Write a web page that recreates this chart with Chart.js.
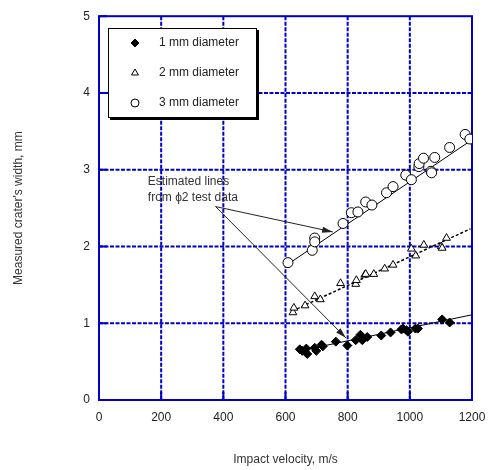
<!DOCTYPE html>
<html>
<head>
<meta charset="utf-8">
<script src="https://cdn.jsdelivr.net/npm/chart.js@4/dist/chart.umd.min.js"></script>
<style>
  html, body { margin: 0; padding: 0; background: #fff; }
  #wrap { width: 492px; height: 470px; }
</style>
</head>
<body>
<div id="wrap"><canvas id="crater"></canvas></div>
<script>
// ---- data ----
const d1x = [646, 654, 667, 670, 694, 699, 716, 720, 762, 799, 826, 841, 847, 863, 908, 938, 973, 978, 989, 994, 1018, 1026, 1104, 1128];
const d1y = [0.66, 0.64, 0.67, 0.60, 0.68, 0.64, 0.72, 0.70, 0.76, 0.71, 0.78, 0.85, 0.78, 0.82, 0.84, 0.88, 0.92, 0.93, 0.91, 0.89, 0.93, 0.93, 1.05, 1.01];

const d2x = [624, 627, 663, 694, 712, 777, 826, 828, 855, 858, 884, 919, 946, 1005, 1019, 1045, 1101, 1104, 1118];
const d2y = [1.14, 1.20, 1.23, 1.35, 1.31, 1.52, 1.51, 1.56, 1.63, 1.64, 1.64, 1.71, 1.76, 1.97, 1.88, 2.02, 2.00, 1.98, 2.11];

const d3x = [608, 686, 694, 694, 785, 812, 833, 858, 878, 925, 946, 987, 1005, 1029, 1030, 1044, 1068, 1070, 1080, 1128, 1178, 1193];
const d3y = [1.79, 1.95, 2.11, 2.06, 2.30, 2.44, 2.45, 2.58, 2.54, 2.70, 2.78, 2.93, 2.87, 3.04, 3.08, 3.15, 2.98, 2.96, 3.16, 3.29, 3.46, 3.40];

// estimated lines (end points)
const fit1x = [646, 1200], fit1y = [0.64, 1.11];
const fit2x = [622, 1195], fit2y = [1.16, 2.23];
const fit3x = [608, 1200], fit3y = [1.77, 3.39];

const seriesNames = ['1 mm diameter', '2 mm diameter', '3 mm diameter'];
const xTicks = [0, 200, 400, 600, 800, 1000, 1200];
const yTicks = [0, 1, 2, 3, 4, 5];

// annotation: text and arrows (data coords)
const noteLines = ['Estimated lines', 'from \u03d52 test data'];
const noteAt = [157, 2.84];
const arrowFrom = [375, 2.52];
const arrowTo = [[752, 2.19], [794, 0.81]];

const pts = (xs, ys) => xs.map((x, i) => ({ x: x, y: ys[i] }));
const BLUE = '#0000c8';
const FONT = 'Arial, "Liberation Sans", sans-serif';

// grid, inner ticks, legend box, note and arrows
const decor = {
    id: 'decor',
    beforeDatasetsDraw(chart) {
        const { ctx, chartArea: a, scales: { x, y } } = chart;
        ctx.save();
        ctx.strokeStyle = BLUE;
        ctx.lineWidth = 2;
        ctx.setLineDash([4, 1.5]);
        xTicks.slice(1, -1).forEach(v => {
            const px = x.getPixelForValue(v);
            ctx.beginPath(); ctx.moveTo(px, a.top); ctx.lineTo(px, a.bottom); ctx.stroke();
        });
        yTicks.slice(1, -1).forEach(v => {
            const py = y.getPixelForValue(v);
            ctx.beginPath(); ctx.moveTo(a.left, py); ctx.lineTo(a.right, py); ctx.stroke();
        });
        ctx.setLineDash([]);
        // inner tick marks
        xTicks.forEach(v => {
            const px = x.getPixelForValue(v);
            ctx.beginPath(); ctx.moveTo(px, a.bottom); ctx.lineTo(px, a.bottom - 8); ctx.stroke();
        });
        yTicks.forEach(v => {
            const py = y.getPixelForValue(v);
            ctx.beginPath(); ctx.moveTo(a.left, py); ctx.lineTo(a.left + 8, py); ctx.stroke();
        });
        ctx.strokeRect(a.left, a.top, a.right - a.left, a.bottom - a.top);
        ctx.restore();
    },
    afterDatasetsDraw(chart) {
        const { ctx, scales: { x, y } } = chart;
        ctx.save();
        // note text
        ctx.fillStyle = '#333';
        ctx.font = '12px ' + FONT;
        ctx.textBaseline = 'middle';
        const nx = x.getPixelForValue(noteAt[0]);
        const ny = y.getPixelForValue(noteAt[1]);
        noteLines.forEach((t, i) => ctx.fillText(t, nx, ny + i * 15.5));
        // arrows
        ctx.strokeStyle = '#222';
        ctx.fillStyle = '#222';
        ctx.lineWidth = 1;
        const fx = x.getPixelForValue(arrowFrom[0]), fy = y.getPixelForValue(arrowFrom[1]);
        arrowTo.forEach(p => {
            const tx = x.getPixelForValue(p[0]), ty = y.getPixelForValue(p[1]);
            ctx.beginPath(); ctx.moveTo(fx, fy); ctx.lineTo(tx, ty); ctx.stroke();
            const ang = Math.atan2(ty - fy, tx - fx);
            ctx.beginPath();
            ctx.moveTo(tx, ty);
            ctx.lineTo(tx - 11 * Math.cos(ang - 0.28), ty - 11 * Math.sin(ang - 0.28));
            ctx.lineTo(tx - 11 * Math.cos(ang + 0.28), ty - 11 * Math.sin(ang + 0.28));
            ctx.closePath();
            ctx.fill();
        });
        // legend box
        ctx.fillStyle = '#000';
        ctx.fillRect(110, 30, 149, 90);
        ctx.fillStyle = '#fff';
        ctx.fillRect(108, 28, 149, 90);
        ctx.strokeStyle = '#000';
        ctx.strokeRect(108.5, 28.5, 148, 89);
        ctx.font = '12px ' + FONT;
        chart.data.datasets.slice(0, 3).forEach((ds, i) => {
            const cy = 43 + i * 30;
            ctx.fillStyle = ds.backgroundColor;
            ctx.strokeStyle = ds.borderColor;
            ctx.lineWidth = 1;
            Chart.helpers.drawPoint(ctx, {
                pointStyle: ds.pointStyle, radius: 4, borderWidth: 1
            }, 135, cy);
            ctx.fillStyle = '#222';
            ctx.fillText(seriesNames[i], 159, cy);
        });
        ctx.restore();
    }
};

new Chart(document.getElementById('crater'), {
    type: 'scatter',
    data: {
        datasets: [
            { label: seriesNames[0], data: pts(d1x, d1y), pointStyle: 'rectRot', pointRadius: 4.5,
              backgroundColor: '#000', borderColor: '#000', borderWidth: 1 },
            { label: seriesNames[1], data: pts(d2x, d2y), pointStyle: 'triangle', pointRadius: 4.5,
              backgroundColor: '#fff', borderColor: '#000', borderWidth: 1 },
            { label: seriesNames[2], data: pts(d3x, d3y), pointStyle: 'circle', pointRadius: 5,
              backgroundColor: '#fff', borderColor: '#000', borderWidth: 1 },
            { type: 'line', data: pts(fit1x, fit1y), borderColor: '#000', borderWidth: 1, pointRadius: 0 },
            { type: 'line', data: pts(fit2x, fit2y), borderColor: '#000', borderWidth: 1.5, borderDash: [3, 2], pointRadius: 0 },
            { type: 'line', data: pts(fit3x, fit3y), borderColor: '#000', borderWidth: 1, pointRadius: 0 }
        ]
    },
    options: {
        responsive: true,
        maintainAspectRatio: false,
        animation: false,
        layout: { padding: { top: 11, right: 20, left: 0, bottom: 0 } },
        plugins: { legend: { display: false }, tooltip: { enabled: false } },
        scales: {
            x: {
                type: 'linear', min: 0, max: 1200,
                afterFit: s => { s.height = 70; s.paddingRight = 0; },
                afterBuildTicks: s => { s.ticks = xTicks.map(v => ({ value: v })); },
                grid: { display: false, drawTicks: false },
                border: { display: false },
                ticks: { padding: 10, color: '#222', font: { size: 12, family: FONT }, callback: v => String(v) },
                title: { display: true, text: 'Impact velocity, m/s', color: '#333', padding: { top: 0, bottom: 3 },
                         font: { size: 12, family: FONT } }
            },
            y: {
                type: 'linear', min: 0, max: 5,
                afterFit: s => { s.width = 99; },
                afterBuildTicks: s => { s.ticks = yTicks.map(v => ({ value: v })); },
                grid: { display: false, drawTicks: false },
                border: { display: false },
                ticks: { padding: 9, color: '#222', font: { size: 12, family: FONT }, callback: v => String(v) },
                title: { display: true, text: "Measured crater's width, mm", color: '#333', padding: { top: 11, bottom: 0 },
                         font: { size: 12, family: FONT } }
            }
        }
    },
    plugins: [decor]
});
</script>
</body>
</html>
